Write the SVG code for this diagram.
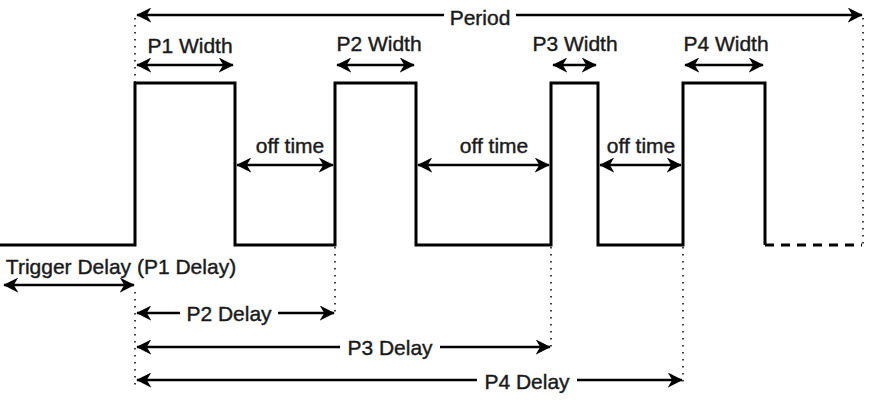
<svg xmlns="http://www.w3.org/2000/svg" width="871" height="403" viewBox="0 0 871 403">
<style>
.w{fill:none;stroke:#000;stroke-width:3}
.a{fill:none;stroke:#000;stroke-width:2.5;marker-start:url(#ah);marker-end:url(#ah)}
.d{fill:none;stroke:#000;stroke-width:1.5;stroke-dasharray:1.5 5.5}
.t{font-family:"Liberation Sans",Arial,sans-serif;font-size:21px;fill:#1a1a1a;text-anchor:middle;stroke:#1a1a1a;stroke-width:0.4}
.bg{fill:#fff}
</style>
<defs>
<marker id="ah" viewBox="0 0 10 10" refX="9.5" refY="5" markerWidth="15" markerHeight="15" orient="auto-start-reverse" markerUnits="userSpaceOnUse">
<path d="M0,0 L10,5 L0,10 L3,5 Z" fill="#000"/>
</marker>
</defs>
<g id="waveform">
<path class="w" d="M0,245 H135 V83 H235 V245 H335 V83 H416 V245 H551 V83 H598 V245 H683 V83 H765 V245"/>
<path d="M765,245 H862" fill="none" stroke="#000" stroke-width="3" stroke-dasharray="9 7"/>
</g>
<g id="connectors">
<path class="d" d="M135,18 V83 M135,292 V386 M335,247 V315 M551,247 V349 M683,247 V382 M863,18 V245"/>
<path class="a" d="M137,15 H862"/>
<path class="a" d="M137,65 H233"/>
<path class="a" d="M337,65 H414"/>
<path class="a" d="M553,65 H596"/>
<path class="a" d="M685,65 H763"/>
<path class="a" d="M237,165 H333"/>
<path class="a" d="M418,165 H549"/>
<path class="a" d="M600,165 H681"/>
<path class="a" d="M4,285 H134"/>
<path class="a" d="M137,313 H334"/>
<path class="a" d="M137,347 H550"/>
<path class="a" d="M137,380 H682"/>
</g>
<g id="labels">
<rect class="bg" x="444" y="5" width="72" height="22"/>
<text class="t" x="480" y="25">Period</text>
<text class="t" x="190" y="53">P1 Width</text>
<text class="t" x="379" y="51">P2 Width</text>
<text class="t" x="575" y="51">P3 Width</text>
<text class="t" x="726" y="51">P4 Width</text>
<text class="t" x="290" y="153">off time</text>
<text class="t" x="494" y="153">off time</text>
<text class="t" x="641" y="153">off time</text>
<text class="t" x="121" y="274">Trigger Delay (P1 Delay)</text>
<rect class="bg" x="180" y="302" width="98" height="22"/>
<text class="t" x="229" y="321">P2 Delay</text>
<rect class="bg" x="340" y="336" width="100" height="22"/>
<text class="t" x="390" y="355">P3 Delay</text>
<rect class="bg" x="477" y="369" width="100" height="22"/>
<text class="t" x="527" y="389">P4 Delay</text>
</g>
</svg>
